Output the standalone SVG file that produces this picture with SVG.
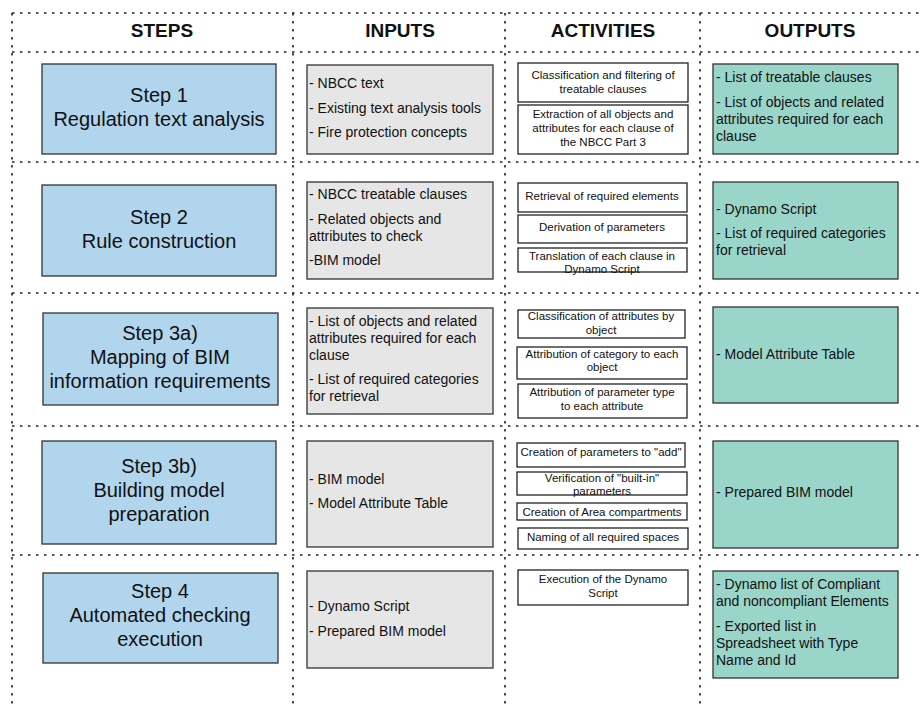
<svg xmlns="http://www.w3.org/2000/svg" width="920" height="707" viewBox="0 0 920 707">
<style>
text{font-family:"Liberation Sans",Arial,sans-serif;fill:#111}
.hdr{font-size:19px;font-weight:bold;text-anchor:middle}
.st{font-size:20px;text-anchor:middle}
.in,.out{font-size:14px}
.ac{font-size:11.5px;text-anchor:middle}
.grid line{stroke:#222;stroke-width:1.6;stroke-dasharray:2.5 5.5}
.step{fill:#b2d5ee;stroke:#333;stroke-width:1.3}
.inp{fill:#e6e6e6;stroke:#333;stroke-width:1.3}
.act{fill:#fff;stroke:#222;stroke-width:1.3}
.outp{fill:#9ad5ca;stroke:#333;stroke-width:1.3}
</style>
<rect width="920" height="707" fill="#fff"/>
<g id="connectors" class="grid">
<line x1="12" y1="13" x2="920" y2="13"/>
<line x1="12" y1="52" x2="920" y2="52"/>
<line x1="12" y1="162" x2="920" y2="162"/>
<line x1="12" y1="293" x2="920" y2="293"/>
<line x1="12" y1="426" x2="920" y2="426"/>
<line x1="12" y1="555" x2="920" y2="555"/>
<line x1="12" y1="13" x2="12" y2="707"/>
<line x1="293" y1="13" x2="293" y2="707"/>
<line x1="505" y1="13" x2="505" y2="707"/>
<line x1="700" y1="13" x2="700" y2="707"/>
</g>
<g id="headers">
<text class="hdr" x="162" y="37">STEPS</text>
<text class="hdr" x="400" y="37">INPUTS</text>
<text class="hdr" x="603" y="37">ACTIVITIES</text>
<text class="hdr" x="810" y="37">OUTPUTS</text>
</g>
<g id="step1"><rect class="step" x="42" y="64" width="234" height="90"/>
<text class="st" x="159" y="102">Step 1</text><text class="st" x="159" y="126">Regulation text analysis</text></g>
<g id="step2"><rect class="step" x="42" y="185" width="234" height="91"/>
<text class="st" x="159" y="224">Step 2</text><text class="st" x="159" y="248">Rule construction</text></g>
<g id="step3a"><rect class="step" x="43" y="313" width="235" height="92"/>
<text class="st" x="160" y="340">Step 3a)</text><text class="st" x="160" y="364">Mapping of BIM</text><text class="st" x="160" y="388">information requirements</text></g>
<g id="step3b"><rect class="step" x="42" y="441" width="234" height="103"/>
<text class="st" x="159" y="473">Step 3b)</text><text class="st" x="159" y="497">Building model</text><text class="st" x="159" y="521">preparation</text></g>
<g id="step4"><rect class="step" x="43" y="573" width="235" height="90"/>
<text class="st" x="160" y="598">Step 4</text><text class="st" x="160" y="622">Automated checking</text><text class="st" x="160" y="646">execution</text></g>

<g id="input1"><rect class="inp" x="307" y="65" width="186" height="89"/>
<text class="in" x="309" y="88">- NBCC text</text><text class="in" x="309" y="112.5">- Existing text analysis tools</text><text class="in" x="309" y="137">- Fire protection concepts</text></g>
<g id="input2"><rect class="inp" x="307" y="182" width="186" height="97"/>
<text class="in" x="309" y="199">- NBCC treatable clauses</text><text class="in" x="309" y="224">- Related objects and</text><text class="in" x="309" y="241">attributes to check</text><text class="in" x="309" y="265">-BIM model</text></g>
<g id="input3"><rect class="inp" x="307" y="308" width="186" height="106"/>
<text class="in" x="309" y="326">- List of objects and related</text><text class="in" x="309" y="343">attributes required for each</text><text class="in" x="309" y="360">clause</text><text class="in" x="309" y="384">- List of required categories</text><text class="in" x="309" y="401">for retrieval</text></g>
<g id="input4"><rect class="inp" x="307" y="441" width="186" height="106"/>
<text class="in" x="309" y="484">- BIM model</text><text class="in" x="309" y="508">- Model Attribute Table</text></g>
<g id="input5"><rect class="inp" x="307" y="571" width="186" height="97"/>
<text class="in" x="309" y="611">- Dynamo Script</text><text class="in" x="309" y="636">- Prepared BIM model</text></g>

<g id="act1a"><rect class="act" x="518" y="63" width="170" height="39"/>
<text class="ac" x="603" y="79">Classification and filtering of</text><text class="ac" x="603" y="93">treatable clauses</text></g>
<g id="act1b"><rect class="act" x="518" y="105" width="170" height="49"/>
<text class="ac" x="603" y="118">Extraction of all objects and</text><text class="ac" x="603" y="132">attributes for each clause of</text><text class="ac" x="603" y="146">the NBCC Part 3</text></g>
<g id="act2a"><rect class="act" x="518" y="183" width="169" height="29"/>
<text class="ac" x="602" y="200">Retrieval of required elements</text></g>
<g id="act2b"><rect class="act" x="518" y="215" width="169" height="28"/>
<text class="ac" x="602" y="231">Derivation of parameters</text></g>
<g id="act2c"><rect class="act" x="518" y="248" width="169" height="24"/>
<text class="ac" x="602" y="260">Translation of each clause in</text><text class="ac" x="602" y="273">Dynamo Script</text></g>
<g id="act3a"><rect class="act" x="518" y="310" width="167" height="28"/>
<text class="ac" x="601" y="320">Classification of attributes by</text><text class="ac" x="601" y="334">object</text></g>
<g id="act3b"><rect class="act" x="517" y="347" width="170" height="32"/>
<text class="ac" x="602" y="358">Attribution of category to each</text><text class="ac" x="602" y="371">object</text></g>
<g id="act3c"><rect class="act" x="518" y="384" width="169" height="34"/>
<text class="ac" x="602" y="396">Attribution of parameter type</text><text class="ac" x="602" y="410">to each attribute</text></g>
<g id="act4a"><rect class="act" x="517" y="443" width="168" height="24"/>
<text class="ac" x="601" y="456">Creation of parameters to "add"</text></g>
<g id="act4b"><rect class="act" x="517" y="472" width="170" height="23"/>
<text class="ac" x="602" y="482">Verification of "built-in"</text><text class="ac" x="602" y="495">parameters</text></g>
<g id="act4c"><rect class="act" x="517" y="503" width="170" height="17"/>
<text class="ac" x="602" y="516">Creation of Area compartments</text></g>
<g id="act4d"><rect class="act" x="518" y="528" width="170" height="21"/>
<text class="ac" x="603" y="541">Naming of all required spaces</text></g>
<g id="act5"><rect class="act" x="518" y="570" width="170" height="35"/>
<text class="ac" x="603" y="583">Execution of the Dynamo</text><text class="ac" x="603" y="597">Script</text></g>

<g id="output1"><rect class="outp" x="713" y="64" width="185" height="90"/>
<text class="out" x="716" y="82">- List of treatable clauses</text><text class="out" x="716" y="107">- List of objects and related</text><text class="out" x="716" y="124">attributes required for each</text><text class="out" x="716" y="141">clause</text></g>
<g id="output2"><rect class="outp" x="713" y="182" width="185" height="97"/>
<text class="out" x="716" y="214">- Dynamo Script</text><text class="out" x="716" y="238">- List of required categories</text><text class="out" x="716" y="255">for retrieval</text></g>
<g id="output3"><rect class="outp" x="713" y="307" width="185" height="96"/>
<text class="out" x="716" y="359">- Model Attribute Table</text></g>
<g id="output4"><rect class="outp" x="713" y="441" width="185" height="107"/>
<text class="out" x="716" y="497">- Prepared BIM model</text></g>
<g id="output5"><rect class="outp" x="713" y="571" width="185" height="107"/>
<text class="out" x="716" y="589">- Dynamo list of Compliant</text><text class="out" x="716" y="606">and noncompliant Elements</text><text class="out" x="716" y="631">- Exported list in</text><text class="out" x="716" y="648">Spreadsheet with Type</text><text class="out" x="716" y="665">Name and Id</text></g>
</svg>
